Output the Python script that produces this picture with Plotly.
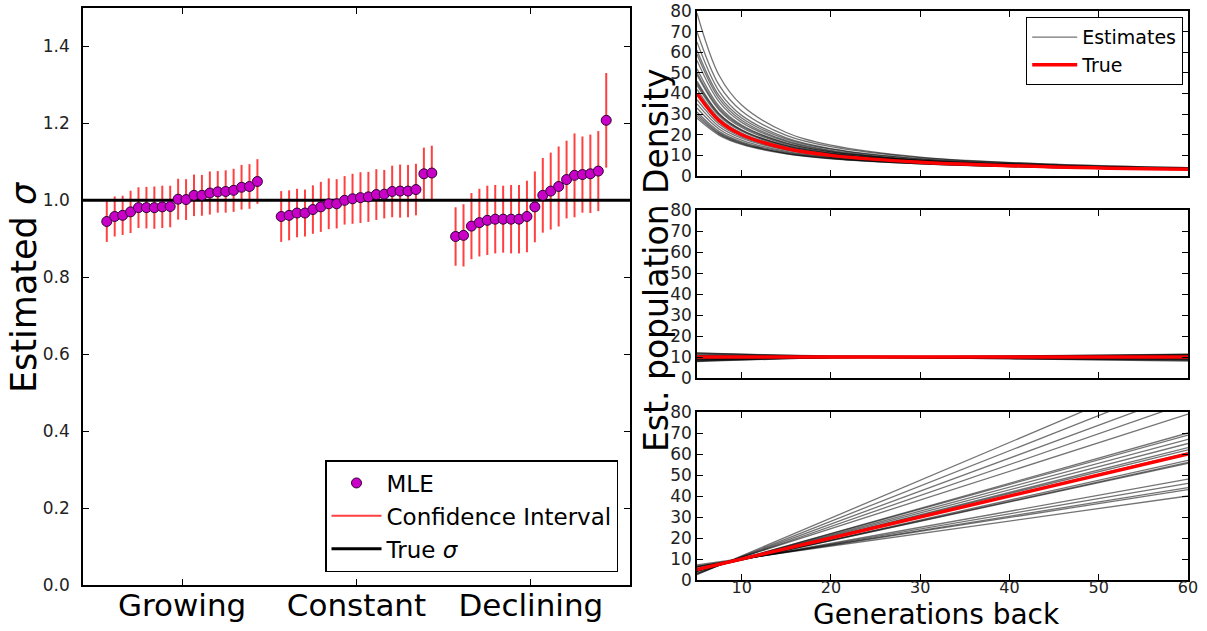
import plotly.graph_objects as go

# ---------------- data ----------------
groups = ["Growing", "Constant", "Declining"]
growing_mle = [0.945, 0.958, 0.961, 0.970, 0.981, 0.981, 0.981, 0.983, 0.984, 1.003,
               1.002, 1.013, 1.013, 1.019, 1.022, 1.023, 1.026, 1.034, 1.036, 1.049]
growing_ci = [0.053, 0.052, 0.051, 0.055, 0.053, 0.054, 0.055, 0.055, 0.054, 0.053,
              0.053, 0.054, 0.053, 0.056, 0.054, 0.055, 0.056, 0.058, 0.058, 0.058]
constant_mle = [0.958, 0.961, 0.967, 0.967, 0.976, 0.983, 0.991, 0.991, 1.000, 1.004,
                1.007, 1.009, 1.015, 1.016, 1.023, 1.024, 1.024, 1.028, 1.069, 1.071]
constant_ci = [0.066, 0.065, 0.063, 0.061, 0.063, 0.065, 0.066, 0.064, 0.063, 0.065,
               0.066, 0.065, 0.066, 0.063, 0.067, 0.069, 0.068, 0.067, 0.068, 0.071]
declining_mle = [0.906, 0.909, 0.933, 0.942, 0.948, 0.951, 0.951, 0.951, 0.951, 0.958,
                 0.983, 1.013, 1.024, 1.036, 1.054, 1.065, 1.067, 1.069, 1.076, 1.208]
declining_ci = [0.076, 0.081, 0.086, 0.088, 0.090, 0.089, 0.087, 0.089, 0.089, 0.093,
                0.092, 0.097, 0.100, 0.104, 0.101, 0.109, 0.099, 0.102, 0.104, 0.123]
true_sigma = 1.0
left_yticks = [0.0, 0.2, 0.4, 0.6, 0.8, 1.0, 1.2, 1.4]

# top-right panel: growing population (density vs generations back)
grow_gens = [5, 7.5, 10, 15, 20, 30, 45, 60]
grow_true = [40, 26.7, 20, 13.3, 10, 6.7, 4.4, 3.3]
grow_est = [
    [79, 48.6, 34.4, 21.1, 15.0, 9.2, 5.7, 4.0],
    [70, 43.9, 31.5, 19.7, 14.2, 8.9, 5.6, 4.0],
    [65, 40.9, 29.4, 18.5, 13.3, 8.4, 5.3, 3.8],
    [61, 38.8, 28.1, 17.9, 13.0, 8.2, 5.2, 3.8],
    [59, 37.4, 27.0, 17.1, 12.4, 7.8, 5.0, 3.6],
    [56, 35.8, 26.0, 16.7, 12.1, 7.7, 5.0, 3.6],
    [52, 33.7, 24.7, 16.0, 11.7, 7.6, 4.9, 3.6],
    [49, 31.9, 23.5, 15.3, 11.2, 7.3, 4.8, 3.5],
    [46, 30.2, 22.4, 14.7, 10.9, 7.2, 4.7, 3.5],
    [44, 29.1, 21.7, 14.3, 10.7, 7.1, 4.7, 3.5],
    [42, 27.9, 20.8, 13.8, 10.3, 6.8, 4.5, 3.4],
    [37, 25.1, 19.0, 12.9, 9.8, 6.6, 4.5, 3.4],
    [33, 22.7, 17.4, 11.9, 9.1, 6.3, 4.3, 3.3],
    [31, 21.5, 16.6, 11.5, 8.9, 6.2, 4.3, 3.3],
    [30, 20.8, 16.1, 11.1, 8.6, 6.0, 4.1, 3.2],
    [29, 20.3, 15.7, 10.9, 8.5, 5.9, 4.1, 3.2],
    [28, 19.7, 15.3, 10.7, 8.3, 5.9, 4.1, 3.2],
    [45, 29.8, 22.2, 14.7, 11.0, 7.3, 4.8, 3.6],
    [50, 32.7, 24.2, 15.8, 11.7, 7.6, 5.0, 3.7],
    [35, 23.9, 18.3, 12.5, 9.5, 6.5, 4.5, 3.4],
]

# middle-right panel: constant population
const_gens = [5, 20, 40, 60]
const_true = [10, 10, 10, 10]
const_est = [
    [12.0, 10.4, 10.0, 10.5], [11.5, 10.3, 10.2, 11.0], [11.0, 10.2, 9.6, 9.2],
    [10.8, 10.2, 10.4, 11.2], [10.5, 10.1, 9.8, 9.6], [10.3, 10.1, 10.1, 10.4],
    [10.0, 10.0, 9.4, 8.8], [9.8, 10.0, 10.3, 10.8], [9.5, 9.9, 9.9, 9.9],
    [9.2, 9.9, 9.2, 8.4], [9.0, 9.8, 10.5, 11.3], [8.8, 9.8, 9.7, 9.4],
    [8.5, 9.7, 9.5, 9.0], [8.2, 9.7, 10.0, 10.2], [8.0, 9.6, 9.1, 8.0],
    [7.8, 9.6, 9.8, 9.7], [11.8, 10.5, 10.3, 10.9], [10.2, 10.0, 9.3, 8.6],
    [9.6, 9.9, 10.1, 10.6], [8.6, 9.7, 9.6, 9.5],
]

# bottom-right panel: declining population (straight lines)
lin_gens = [5, 60]
lin_true = [5, 60]
lin_est = [
    [2.5, 101.5], [2.8, 95.1], [3.1, 89.4], [3.4, 84.4], [4.0, 79.0],
    [4.2, 70.0], [4.3, 69.0], [4.3, 67.0], [4.4, 65.0], [4.5, 63.0],
    [4.6, 62.0], [4.7, 60.5], [4.8, 57.0], [4.9, 56.0], [5.0, 55.5],
    [6.0, 48.0], [6.2, 46.0], [6.5, 44.0], [6.6, 43.0], [7.2, 40.0],
]
right_yticks = [0, 10, 20, 30, 40, 50, 60, 70, 80]
right_xticks = [10, 20, 30, 40, 50, 60]

# ---------------- figure ----------------
W, H = 1207, 631
FONT = "DejaVu Sans"
GROUP_GAP = 22

fig = go.Figure()

all_mle = [growing_mle, constant_mle, declining_mle]
all_ci = [growing_ci, constant_ci, declining_ci]
xs, ms, ci_x, ci_y = [], [], [], []
for g, (mle, ci) in enumerate(zip(all_mle, all_ci)):
    for i, (m, c) in enumerate(zip(mle, ci)):
        x = g * GROUP_GAP + i
        xs.append(x)
        ms.append(m)
        ci_x += [x, x, None]
        ci_y += [m - c, m + c, None]
centers = [g * GROUP_GAP + (len(all_mle[g]) - 1) / 2 for g in range(3)]

fig.add_trace(go.Scatter(x=ci_x, y=ci_y, mode="lines", name="Confidence Interval",
                         line=dict(color="rgba(255,30,30,0.85)", width=2),
                         xaxis="x", yaxis="y", legend="legend", legendrank=2))
fig.add_trace(go.Scatter(x=[-3, 66], y=[true_sigma, true_sigma], mode="lines",
                         name="True <i>σ</i>", line=dict(color="black", width=3),
                         xaxis="x", yaxis="y", legend="legend", legendrank=3))
fig.add_trace(go.Scatter(x=xs, y=ms, mode="markers", name="MLE",
                         marker=dict(color="#c800c8", size=10,
                                     line=dict(color="#300030", width=1)),
                         xaxis="x", yaxis="y", legend="legend", legendrank=1))

EST_LINE = dict(color="rgba(0,0,0,0.55)", width=1.3)
panels = [("x2", "y2", grow_gens, grow_est, grow_true, "spline"),
          ("x3", "y3", const_gens, const_est, const_true, "spline"),
          ("x4", "y4", lin_gens, lin_est, lin_true, "linear")]
for p, (xa, ya, gx, est, tru, shape) in enumerate(panels):
    for k, e in enumerate(est):
        fig.add_trace(go.Scatter(x=gx, y=e, mode="lines", name="Estimates",
                                 line=dict(shape=shape, **EST_LINE),
                                 xaxis=xa, yaxis=ya, legend="legend2",
                                 legendgroup="est", legendrank=1,
                                 showlegend=(p == 0 and k == 0)))
    fig.add_trace(go.Scatter(x=gx, y=tru, mode="lines", name="True",
                             line=dict(color="#ff0000", width=3.5, shape=shape),
                             xaxis=xa, yaxis=ya, legend="legend2",
                             legendgroup="true", legendrank=2,
                             showlegend=(p == 0)))


def px_x(v):
    return v / W


def px_y(v):
    return 1 - v / H


axis_common = dict(showline=True, linecolor="black", linewidth=1.5, mirror="ticks",
                   ticks="inside", ticklen=6, tickwidth=1, tickcolor="black",
                   showgrid=False, zeroline=False, automargin=False,
                   ticklabeloverflow="allow")

fig.update_layout(
    width=W, height=H, margin=dict(l=0, r=0, t=0, b=0),
    paper_bgcolor="white", plot_bgcolor="white",
    font=dict(family=FONT, color="black"),
    xaxis=dict(domain=[px_x(83), px_x(630)], range=[-3, 66], anchor="y",
               tickvals=centers, ticktext=groups, tickfont=dict(size=31),
               ticklabelstandoff=-8, **axis_common),
    yaxis=dict(domain=[px_y(585), px_y(8)], range=[0, 1.5], anchor="x",
               tickvals=left_yticks, ticktext=[f"{v:.1f}" for v in left_yticks],
               tickfont=dict(size=17, color="#222"), ticklabelstandoff=8,
               **axis_common),
    xaxis2=dict(domain=[px_x(697), px_x(1188)], range=[5, 60], anchor="y2",
                tickvals=right_xticks, showticklabels=False, **axis_common),
    yaxis2=dict(domain=[px_y(176), px_y(11)], range=[0, 80], anchor="x2",
                tickvals=right_yticks, tickfont=dict(size=17, color="#222"), **axis_common),
    xaxis3=dict(domain=[px_x(697), px_x(1188)], range=[5, 60], anchor="y3",
                tickvals=right_xticks, showticklabels=False, **axis_common),
    yaxis3=dict(domain=[px_y(378), px_y(210)], range=[0, 80], anchor="x3",
                tickvals=right_yticks, tickfont=dict(size=17, color="#222"), **axis_common),
    xaxis4=dict(domain=[px_x(697), px_x(1188)], range=[5, 60], anchor="y4",
                tickvals=right_xticks, tickfont=dict(size=16, color="#222"),
                ticklabelstandoff=-8, **axis_common),
    yaxis4=dict(domain=[px_y(580), px_y(412)], range=[0, 80], anchor="x4",
                tickvals=right_yticks, tickfont=dict(size=17, color="#222"), **axis_common),
    legend=dict(x=px_x(618), y=px_y(572), xanchor="right", yanchor="bottom",
                bgcolor="white", bordercolor="black", borderwidth=1.5,
                font=dict(size=23, family=FONT), traceorder="normal",
                itemwidth=50),
    legend2=dict(x=px_x(1183), y=px_y(17), xanchor="right", yanchor="top",
                 bgcolor="white", bordercolor="black", borderwidth=1.2,
                 font=dict(size=19, family=FONT), traceorder="normal",
                 itemwidth=45),
    annotations=[
        dict(text="Estimated <i>σ</i>", x=px_x(24), y=px_y(287), xref="paper",
             yref="paper", xanchor="center", yanchor="middle", showarrow=False,
             textangle=-90, font=dict(size=35)),
        dict(text="Est. population Density", x=px_x(656), y=px_y(260), xref="paper",
             yref="paper", xanchor="center", yanchor="middle", showarrow=False,
             textangle=-90, font=dict(size=33)),
        dict(text="Generations back", x=px_x(936), y=px_y(614), xref="paper",
             yref="paper", xanchor="center", yanchor="middle", showarrow=False,
             font=dict(size=28)),
    ],
)

fig.write_html("out.html", config={"displayModeBar": False},
               post_script="document.body.style.margin='0';")
